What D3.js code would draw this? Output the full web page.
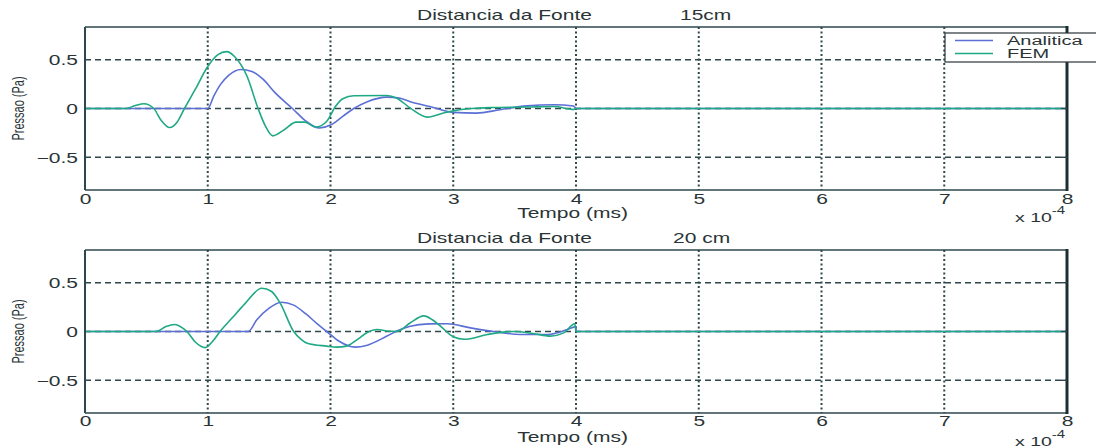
<!DOCTYPE html>
<html><head><meta charset="utf-8">
<script src="https://cdn.jsdelivr.net/npm/d3@7"></script>
<style>
html,body{margin:0;padding:0;background:#fff;}
svg{display:block;}
text{font-family:"Liberation Sans",Arial,Helvetica,sans-serif;fill:#2a3436;}
</style></head>
<body>
<svg id="chart" width="1096" height="448"></svg>
<script>
// time in units of 1e-4 s (axis "x 10^-4"), pressure in Pa
const xTicks = [0,1,2,3,4,5,6,7,8];
const yTicks = [-0.5, 0, 0.5];
const seriesNames = ["Analitica", "FEM"];
const titles = [["Distancia da Fonte", "15cm"], ["Distancia da Fonte", "20 cm"]];

const ana15T = [0,0.5,1.0,1.05,1.10,1.17,1.27,1.36,1.45,1.55,1.69,1.80,1.91,2.0,2.10,2.19,2.30,2.46,2.55,2.65,2.81,3.0,3.19,3.38,3.60,3.82,3.98,4.0,6,8];
const ana15V = [0,0,0,0.13,0.24,0.34,0.40,0.38,0.30,0.16,0,-0.13,-0.20,-0.17,-0.08,0,0.07,0.117,0.11,0.07,0.02,-0.04,-0.047,-0.013,0.027,0.038,0.025,0,0,0];

const fem15T = [0,0.2,0.33,0.41,0.48,0.56,0.62,0.69,0.75,0.81,0.90,1.0,1.08,1.155,1.22,1.32,1.41,1.47,1.53,1.62,1.72,1.79,1.88,1.97,2.04,2.10,2.19,2.46,2.54,2.65,2.79,2.92,3.0,3.15,3.33,3.6,3.82,3.98,4.0,6,8];
const fem15V = [0,0,0,0.03,0.048,0,-0.12,-0.195,-0.14,0,0.2,0.43,0.55,0.583,0.53,0.33,0,-0.18,-0.28,-0.22,-0.14,-0.14,-0.19,-0.13,0.02,0.10,0.13,0.133,0.106,0.004,-0.088,-0.047,-0.024,0,0.01,0.015,0.02,-0.01,0,0,0];

const ana20T = [0,0.7,1.33,1.40,1.50,1.60,1.70,1.80,1.90,1.97,2.07,2.20,2.30,2.46,2.55,2.65,2.80,2.95,3.14,3.33,3.55,3.77,3.93,4.0,4.001,6,8];
const ana20V = [0,0,0,0.12,0.24,0.30,0.27,0.18,0.07,0,-0.10,-0.16,-0.14,-0.047,0.01,0.054,0.078,0.08,0.037,0,-0.03,-0.03,0.02,0.05,0,0,0];

const fem20T = [0,0.3,0.58,0.66,0.73,0.79,0.83,0.90,0.98,1.04,1.10,1.20,1.30,1.44,1.52,1.59,1.70,1.76,1.81,1.97,2.05,2.13,2.22,2.30,2.38,2.46,2.54,2.65,2.76,2.83,2.90,3.0,3.09,3.28,3.49,3.65,3.79,3.90,3.99,4.001,6,8];
const fem20V = [0,0,0,0.05,0.071,0.04,0,-0.11,-0.165,-0.10,0,0.14,0.28,0.443,0.41,0.29,0,-0.08,-0.12,-0.15,-0.16,-0.15,-0.08,-0.01,0.02,0.005,0,0.09,0.16,0.12,0.05,-0.054,-0.08,-0.03,0,-0.02,-0.047,-0.014,0.08,0,0,0];

const colors = {ana:"#5b6fd6", fem:"#1fa884"};
const gridColor = "#2e474b";
const SX = 1.5; // horizontal glyph stretch of the original picture

const svg = d3.select("#chart");
const x = d3.scaleLinear().domain([0,8]).range([85,1067]);

const panels = [
  {top:27, bottom:190, title:titles[0], ana:[ana15T,ana15V], fem:[fem15T,fem15V], titleY:20, tickY:204, labY:218, expY:222, legend:true},
  {top:250, bottom:413, title:titles[1], ana:[ana20T,ana20V], fem:[fem20T,fem20V], titleY:243, tickY:426, labY:442, expY:446, legend:false}
];

panels.forEach(p => {
  const y = d3.scaleLinear().domain([-0.835,0.835]).range([p.bottom,p.top]);
  const g = svg.append("g");

  // grid: vertical dotted
  g.selectAll(".vg").data(xTicks.filter(t=>t>0&&t<8)).enter().append("line")
    .attr("x1",d=>x(d)).attr("x2",d=>x(d)).attr("y1",p.top).attr("y2",p.bottom)
    .attr("stroke",gridColor).attr("stroke-width",2).attr("stroke-dasharray","2,2.5");
  // grid: horizontal dashed
  g.selectAll(".hg").data(yTicks).enter().append("line")
    .attr("x1",x(0)).attr("x2",x(8)).attr("y1",d=>y(d)).attr("y2",d=>y(d))
    .attr("stroke",gridColor).attr("stroke-width",1.4).attr("stroke-dasharray","6,4");

  // curves
  const line = d3.line().x(d=>x(d[0])).y(d=>y(d[1])).curve(d3.curveMonotoneX);
  const anaPts = p.ana[0].map((t,i)=>[t,p.ana[1][i]]);
  const femPts = p.fem[0].map((t,i)=>[t,p.fem[1][i]]);
  g.append("path").attr("d",line(anaPts)).attr("fill","none").attr("stroke",colors.ana).attr("stroke-width",1.6);
  g.append("path").attr("d",line(femPts)).attr("fill","none").attr("stroke",colors.fem).attr("stroke-width",1.6);

  // box
  g.append("line").attr("x1",x(0)).attr("x2",x(8)).attr("y1",p.top).attr("y2",p.top).attr("stroke",gridColor).attr("stroke-width",1.6);
  g.append("line").attr("x1",x(0)).attr("x2",x(8)).attr("y1",p.bottom).attr("y2",p.bottom).attr("stroke",gridColor).attr("stroke-width",1.6);
  g.append("line").attr("x1",x(0)).attr("x2",x(0)).attr("y1",p.top).attr("y2",p.bottom).attr("stroke",gridColor).attr("stroke-width",2);
  g.append("line").attr("x1",x(8)).attr("x2",x(8)).attr("y1",p.top-1).attr("y2",p.bottom+1).attr("stroke","#1c2e31").attr("stroke-width",3);

  // axes labels via d3 axes
  const xa = g.append("g").attr("transform",`translate(0,${p.tickY-14})`)
    .call(d3.axisBottom(x).tickValues(xTicks).tickSize(0).tickPadding(0).tickFormat(d3.format("d")));
  xa.select(".domain").remove();
  xa.selectAll("text").attr("dy",null).attr("y",14).attr("font-size",14)
    .attr("transform",`scale(${SX},1)`).style("fill","#2a3436")
    .attr("font-family","Liberation Sans, Arial, sans-serif");
  xa.selectAll("line").remove();

  const ya = g.append("g").attr("transform",`translate(${x(0)},0)`)
    .call(d3.axisLeft(y).tickValues(yTicks).tickSize(0).tickPadding(0).tickFormat(d=> d===0?"0":d3.format(".1f")(d)));
  ya.select(".domain").remove();
  ya.selectAll("line").remove();
  ya.selectAll("text").attr("x",-7/SX).attr("dy","0.36em").attr("font-size",14)
    .attr("transform",`scale(${SX},1)`).style("fill","#2a3436")
    .attr("font-family","Liberation Sans, Arial, sans-serif");

  // inner ticks on right side
  yTicks.forEach(v=>{
    g.append("line").attr("x1",x(8)-6).attr("x2",x(8)).attr("y1",y(v)).attr("y2",y(v)).attr("stroke",gridColor).attr("stroke-width",1.4);
  });

  // titles
  g.append("text").attr("transform",`translate(417,${p.titleY}) scale(${SX},1)`).attr("font-size",14).text(p.title[0]);
  g.append("text").attr("transform",`translate(${p.title[1]==="15cm"?680:673},${p.titleY}) scale(${SX},1)`).attr("font-size",14).text(p.title[1]);

  // x label
  g.append("text").attr("transform",`translate(${(515+630)/2},${p.labY}) scale(${SX},1)`).attr("text-anchor","middle").attr("font-size",14).text("Tempo (ms)");
  // exponent
  const ex = g.append("text").attr("transform",`translate(1015,${p.expY}) scale(${SX},1)`).attr("font-size",13);
  ex.append("tspan").text("x 10");
  ex.append("tspan").attr("dy",-8).attr("font-size",10).text("-4");

  // y label
  g.append("text").attr("transform",`translate(24,${(p.top+p.bottom)/2}) rotate(-90) scale(1,${SX})`)
    .attr("text-anchor","middle").attr("font-size",11).text("Pressao (Pa)");

  if (p.legend) {
    const lg = g.append("g");
    lg.append("rect").attr("x",945).attr("y",33).attr("width",160).attr("height",29)
      .attr("fill","#fff").attr("stroke","#2a3436").attr("stroke-width",1.2);
    const items = [[seriesNames[0],colors.ana,40.5],[seriesNames[1],colors.fem,53.5]];
    items.forEach(it=>{
      lg.append("line").attr("x1",955).attr("x2",993).attr("y1",it[2]).attr("y2",it[2]).attr("stroke",it[1]).attr("stroke-width",1.6);
      lg.append("text").attr("transform",`translate(1007,${it[2]+4.5}) scale(1.6,1)`).attr("font-size",12.5).text(it[0]);
    });
  }
});
</script>
</body></html>
